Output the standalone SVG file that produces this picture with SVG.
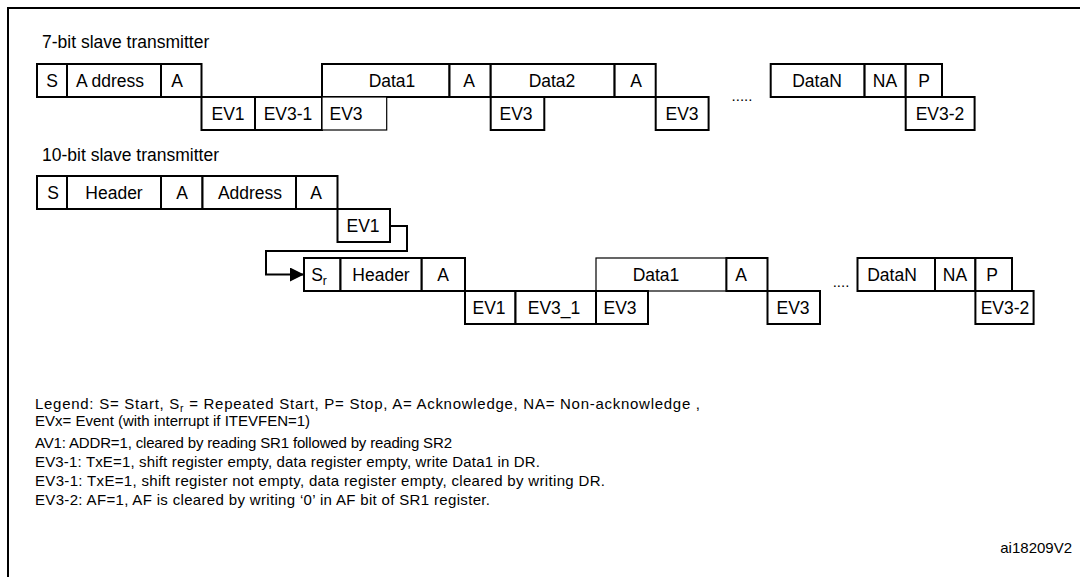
<svg xmlns="http://www.w3.org/2000/svg" width="1080" height="577" viewBox="0 0 1080 577">
<style>
.frame{fill:none;stroke:#000;stroke-width:2}
.box{fill:#fff;stroke:#000;stroke-width:2}
.thin{stroke-width:1.2}
.lbl{font-family:"Liberation Sans",Arial,sans-serif;font-size:17.5px;fill:#000;text-anchor:middle}
.head{font-family:"Liberation Sans",Arial,sans-serif;font-size:17.5px;fill:#000}
.cap{font-family:"Liberation Sans",Arial,sans-serif;font-size:15px;fill:#000}
.conn{fill:none;stroke:#000;stroke-width:2}
</style>
<defs>
<marker id="arrow" viewBox="0 0 14 14" refX="14" refY="7" markerWidth="14" markerHeight="14" orient="auto" markerUnits="userSpaceOnUse">
<path d="M0,0 L14,7 L0,14 z" fill="#000"/>
</marker>
</defs>
<rect width="1080" height="577" fill="#fff"/>
<path class="frame" d="M8,577 V8 H1080"/>

<text class="head" x="42" y="48">7-bit slave transmitter</text>

<g id="r1-top">
<rect class="box" x="37" y="64" width="30" height="33"/><text class="lbl" x="52" y="87">S</text>
<rect class="box" x="67" y="64" width="94" height="33"/><text class="lbl" x="110" y="87">A<tspan dx="4">ddress</tspan></text>
<rect class="box" x="161" y="64" width="40.5" height="33"/><text class="lbl" x="177" y="87">A</text>
<rect class="box" x="322" y="64" width="127.5" height="33"/><text class="lbl" x="392" y="87">Data1</text>
<rect class="box" x="449.5" y="64" width="41.2" height="33"/><text class="lbl" x="469" y="87">A</text>
<rect class="box" x="490.7" y="64" width="123.9" height="33"/><text class="lbl" x="552" y="87">Data2</text>
<rect class="box" x="614.6" y="64" width="41.1" height="33"/><text class="lbl" x="636" y="87">A</text>
<rect class="box" x="770.7" y="64" width="93.9" height="33"/><text class="lbl" x="817" y="87">DataN</text>
<rect class="box" x="864.6" y="64" width="41.1" height="33"/><text class="lbl" x="885" y="87">NA</text>
<rect class="box" x="905.7" y="64" width="36.3" height="33"/><text class="lbl" x="924" y="87">P</text>
</g>
<g id="r1-bottom">
<rect class="box" x="201.5" y="97" width="53.5" height="33"/><text class="lbl" x="228" y="120">EV1</text>
<rect class="box" x="255" y="97" width="67" height="33"/><text class="lbl" x="288" y="120">EV3-1</text>
<rect class="box thin" x="322" y="97" width="64.7" height="33"/><text class="lbl" x="346" y="120">EV3</text>
<rect class="box" x="490.7" y="97" width="53.6" height="33"/><text class="lbl" x="516" y="120">EV3</text>
<rect class="box" x="655.7" y="97" width="52.9" height="33"/><text class="lbl" x="682" y="120">EV3</text>
<rect class="box" x="905.7" y="97" width="68.9" height="33"/><text class="lbl" x="940" y="120">EV3-2</text>
<text class="cap" x="742" y="101" text-anchor="middle">.....</text>
</g>

<text class="head" x="42" y="161">10-bit slave transmitter</text>

<g id="r2-top">
<rect class="box" x="37" y="176" width="30" height="33"/><text class="lbl" x="53" y="199">S</text>
<rect class="box" x="67" y="176" width="94" height="33"/><text class="lbl" x="114" y="199">Header</text>
<rect class="box" x="161" y="176" width="41.5" height="33"/><text class="lbl" x="182" y="199">A</text>
<rect class="box" x="202.5" y="176" width="93.5" height="33"/><text class="lbl" x="250" y="199">Address</text>
<rect class="box" x="296" y="176" width="41.5" height="33"/><text class="lbl" x="316" y="199">A</text>
</g>
<g id="r2-ev1">
<rect class="box" x="337.5" y="209" width="52.5" height="33"/><text class="lbl" x="363" y="232">EV1</text>
</g>

<g id="connectors">
<path class="conn" d="M390,226 H407 V251 H266 V274.5 H304" marker-end="url(#arrow)"/>
</g>

<g id="r3-top">
<rect class="box" x="304" y="258" width="36.5" height="33"/><text class="lbl" x="319" y="281">S<tspan font-size="12" dy="4">r</tspan></text>
<rect class="box" x="340.5" y="258" width="81.2" height="33"/><text class="lbl" x="381" y="281">Header</text>
<rect class="box" x="421.7" y="258" width="43.3" height="33"/><text class="lbl" x="443" y="281">A</text>
<rect class="box thin" x="596" y="258" width="130.4" height="33"/><text class="lbl" x="656" y="281">Data1</text>
<rect class="box" x="726.4" y="258" width="41.1" height="33"/><text class="lbl" x="741" y="281">A</text>
<rect class="box" x="857.5" y="258" width="77.5" height="33"/><text class="lbl" x="892" y="281">DataN</text>
<rect class="box" x="935" y="258" width="40.4" height="33"/><text class="lbl" x="955" y="281">NA</text>
<rect class="box" x="975.4" y="258" width="36.6" height="33"/><text class="lbl" x="992" y="281">P</text>
</g>
<g id="r3-bottom">
<rect class="box" x="465" y="291" width="50.5" height="33"/><text class="lbl" x="489" y="314">EV1</text>
<rect class="box" x="515.5" y="291" width="80.5" height="33"/><text class="lbl" x="554" y="314">EV3_1</text>
<rect class="box" x="596" y="291" width="52" height="33"/><text class="lbl" x="620" y="314">EV3</text>
<rect class="box" x="767.5" y="291" width="52.5" height="33"/><text class="lbl" x="793" y="314">EV3</text>
<rect class="box" x="975.4" y="291" width="58.2" height="33"/><text class="lbl" x="1005" y="314">EV3-2</text>
<text class="cap" x="841" y="287" text-anchor="middle">....</text>
</g>

<g id="legend">
<text class="cap" x="35" y="409" font-size="15.6" textLength="665" lengthAdjust="spacing">Legend:  S= Start, S<tspan font-size="10.5" dy="3">r</tspan><tspan dy="-3"> = Repeated Start, P= Stop, A= Acknowledge, NA= Non-acknowledge ,</tspan></text>
<text class="cap" x="35" y="426">EVx= Event (with interrupt if ITEVFEN=1)</text>
<text class="cap" x="35" y="448" textLength="417" lengthAdjust="spacing">AV1: ADDR=1, cleared by reading SR1 followed by reading SR2</text>
<text class="cap" x="35" y="467" textLength="505" lengthAdjust="spacing">EV3-1: TxE=1, shift register empty, data register empty, write Data1 in DR.</text>
<text class="cap" x="35" y="486" textLength="570" lengthAdjust="spacing">EV3-1: TxE=1, shift register not empty, data register empty, cleared by writing DR.</text>
<text class="cap" x="35" y="505" textLength="455" lengthAdjust="spacing">EV3-2: AF=1, AF is cleared by writing ‘0’ in AF bit of SR1 register.</text>
</g>
<text class="cap" x="1072" y="553" text-anchor="end" font-size="13">ai18209V2</text>
</svg>
